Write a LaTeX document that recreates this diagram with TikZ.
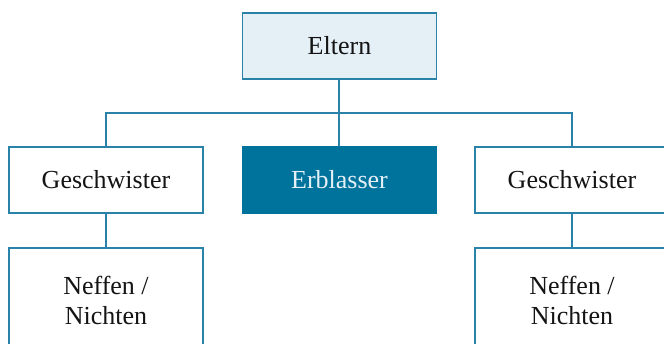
\documentclass[tikz,border=0pt]{standalone}
\usepackage{fontspec}
\setmainfont{Liberation Serif}
\definecolor{edge}{HTML}{2A82A8}
\definecolor{deep}{HTML}{00739D}
\definecolor{pale}{HTML}{E5EFF6}
\definecolor{ink}{HTML}{141414}
\tikzset{
  box/.style={draw=edge, line width=1.4pt, fill=white, rectangle,
    minimum width=194pt, minimum height=66pt, inner sep=0pt,
    text=ink, font=\fontsize{26}{30}\selectfont, align=center},
  tallbox/.style={box, minimum height=104pt},
  link/.style={draw=edge, line width=1.4pt}
}
\begin{document}
\begin{tikzpicture}[x=1pt,y=-1pt]
\useasboundingbox (0,0) rectangle (664,343);
\clip (0,0) rectangle (664,343);
% family tree boxes
\node[box, fill=pale] (eltern) at (339.5,46) {Eltern};
\node[box, fill=deep, draw=deep, text=pale] (erbl) at (339.5,180) {Erblasser};
\node[box] (gl) at (106,180) {Geschwister};
\node[box] (gr) at (572,180) {Geschwister};
\node[tallbox] (nl) at (106,300) {Neffen /\\Nichten};
\node[tallbox] (nr) at (572,300) {Neffen /\\Nichten};
% connectors
\coordinate (j) at (339,113);
\draw[link] ([xshift=-0.5pt]eltern.south) -- ([xshift=-0.5pt]erbl.north);
\draw[link] (gl.north) |- (j) -| (gr.north);
\draw[link] (gl.south) -- (nl.north);
\draw[link] (gr.south) -- (nr.north);
\end{tikzpicture}
\end{document}
